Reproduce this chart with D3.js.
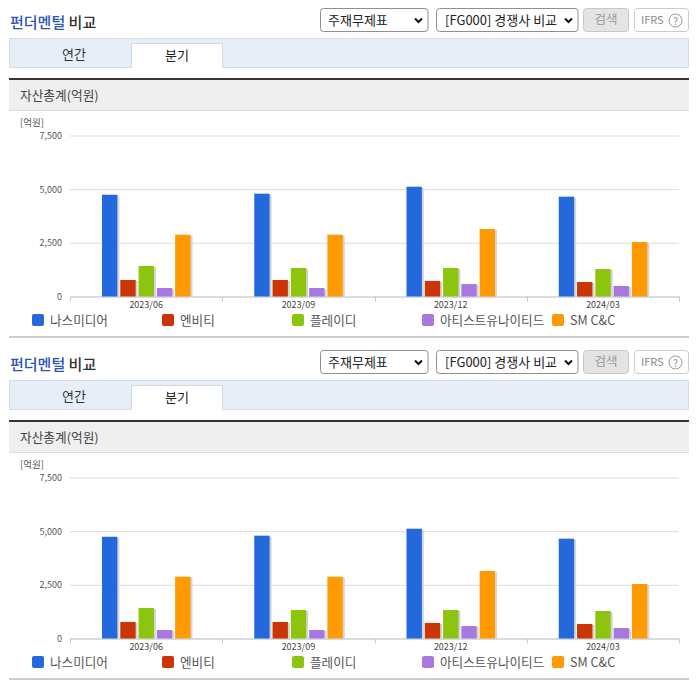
<!DOCTYPE html>
<html>
<head>
<meta charset="utf-8">
<script src="https://cdn.jsdelivr.net/npm/d3@7"></script>
<style>
html, body { margin: 0; padding: 0; background: #fff; }
svg { display: block; }
text { font-family: "Noto Sans CJK KR", "Noto Sans", sans-serif; }
</style>
</head>
<body>
<script>
var periods = ["2023/06", "2023/09", "2023/12", "2024/03"];
var companies = ["나스미디어", "엔비티", "플레이디", "아티스트유나이티드", "SM C&C"];
var companyColors = ["#2369dc", "#cc3505", "#8cc40e", "#a878e0", "#ff9a00"];
var yTicks = [0, 2500, 5000, 7500];

var nasmedia = [4740, 4790, 5115, 4650];
var nbt = [770, 770, 725, 675];
var playd = [1420, 1330, 1330, 1280];
var artistUnited = [395, 395, 580, 490];
var smcc = [2880, 2880, 3145, 2540];
var seriesValues = [nasmedia, nbt, playd, artistUnited, smcc];

var panelOffsets = [0, 342];

var svg = d3.select("body").append("svg")
    .attr("width", 696)
    .attr("height", 684);

var xScale = d3.scaleBand().domain(periods).range([70, 679]);
var seriesScale = d3.scaleBand().domain(companies)
    .range([32, 120.5]).paddingInner(0.16);
var yScale = d3.scaleLinear().domain([0, 7500]).range([296.5, 135.5]);

panelOffsets.forEach(function (offset) {
    var panel = svg.append("g").attr("transform", "translate(0," + offset + ")");
    drawHeader(panel);
    drawChart(panel);
    drawLegend(panel);
});

// title, dropdowns, buttons and the tab strip
function drawHeader(panel) {
    var title = panel.append("text")
        .attr("x", 10).attr("y", 28)
        .attr("font-size", 15).attr("font-weight", 500);
    title.append("tspan").attr("fill", "#2a55b0").text("펀더멘털");
    title.append("tspan").attr("fill", "#333").text(" 비교");

    drawSelect(panel, 320.5, 107.5, "주재무제표", 328);
    drawSelect(panel, 436.5, 141.5, "[FG000] 경쟁사 비교", 445);

    panel.append("rect")
        .attr("x", 583.5).attr("y", 8.5).attr("width", 45).attr("height", 23).attr("rx", 3)
        .attr("fill", "#e4e4e4").attr("stroke", "#c8c8c8");
    panel.append("text")
        .attr("x", 606).attr("y", 24).attr("text-anchor", "middle")
        .attr("font-size", 12.5).attr("fill", "#999").text("검색");

    panel.append("rect")
        .attr("x", 634.5).attr("y", 8.5).attr("width", 54).attr("height", 23).attr("rx", 3)
        .attr("fill", "#fff").attr("stroke", "#ccc");
    panel.append("text")
        .attr("x", 641).attr("y", 24)
        .attr("font-size", 11).attr("fill", "#888").text("IFRS");
    panel.append("circle")
        .attr("cx", 675.5).attr("cy", 20.5).attr("r", 6.5)
        .attr("fill", "#fff").attr("stroke", "#999");
    panel.append("text")
        .attr("x", 675.5).attr("y", 24.5).attr("text-anchor", "middle")
        .attr("font-size", 10).attr("fill", "#888").text("?");

    panel.append("rect")
        .attr("x", 9.5).attr("y", 38.5).attr("width", 679).attr("height", 29)
        .attr("fill", "#e8eef8").attr("stroke", "#d5dde8");
    panel.append("path")
        .attr("d", "M131.5,67.5V43.5H222.5V67.5")
        .attr("fill", "#fff").attr("stroke", "#d0d8e4");
    panel.append("rect")
        .attr("x", 132).attr("y", 66).attr("width", 90).attr("height", 2).attr("fill", "#fff");
    panel.append("text")
        .attr("x", 74).attr("y", 59).attr("text-anchor", "middle")
        .attr("font-size", 13).attr("fill", "#333").text("연간");
    panel.append("text")
        .attr("x", 177).attr("y", 60).attr("text-anchor", "middle")
        .attr("font-size", 13).attr("fill", "#222").text("분기");

    panel.append("rect")
        .attr("x", 9).attr("y", 80).attr("width", 680).attr("height", 30).attr("fill", "#efefef");
    panel.append("rect")
        .attr("x", 9).attr("y", 78).attr("width", 680).attr("height", 2).attr("fill", "#333");
    panel.append("rect")
        .attr("x", 9).attr("y", 110).attr("width", 680).attr("height", 1).attr("fill", "#ddd");
    panel.append("text")
        .attr("x", 20).attr("y", 100)
        .attr("font-size", 12.7).attr("fill", "#444").text("자산총계(억원)");
}

// a closed dropdown box with its chevron
function drawSelect(panel, x, width, label, textX) {
    panel.append("rect")
        .attr("x", x).attr("y", 8.5).attr("width", width).attr("height", 23).attr("rx", 3)
        .attr("fill", "#fff").attr("stroke", "#8f8f8f");
    panel.append("text")
        .attr("x", textX).attr("y", 25)
        .attr("font-size", 13).attr("fill", "#222").text(label);
    var cx = x + width - 9.5;
    panel.append("path")
        .attr("d", "M" + (cx - 3.5) + ",18.5l3.5,3.5l3.5,-3.5")
        .attr("fill", "none").attr("stroke", "#111").attr("stroke-width", 2);
}

// axes and bars, with the soft shadow to the right of each bar
function drawChart(panel) {
    panel.append("text")
        .attr("x", 20).attr("y", 126)
        .attr("font-size", 9.5).attr("fill", "#555").text("[억원]");

    var yAxis = panel.append("g")
        .attr("transform", "translate(70,0)")
        .call(d3.axisLeft(yScale).tickValues(yTicks).tickSize(-609).tickPadding(8)
            .tickFormat(d3.format(",")));
    yAxis.select(".domain").remove();
    yAxis.selectAll("line").attr("stroke", "#dcdcdc");
    yAxis.selectAll("text")
        .attr("font-family", null).attr("font-size", 9).attr("fill", "#555");

    var xAxis = panel.append("g")
        .attr("transform", "translate(0,296.5)")
        .call(d3.axisBottom(xScale).tickSize(0).tickPadding(5));
    xAxis.select(".domain").attr("stroke", "#c0cbdc");
    xAxis.selectAll("text")
        .attr("font-size", 9).attr("fill", "#444");

    panel.append("g").selectAll("line")
        .data(periods.concat(null))
        .enter().append("line")
        .attr("x1", function (d) { return d ? Math.round(xScale(d)) + 0.5 : 679.5; })
        .attr("x2", function (d) { return d ? Math.round(xScale(d)) + 0.5 : 679.5; })
        .attr("y1", 296.5).attr("y2", 301.5)
        .attr("stroke", "#c0cbdc");

    var groups = panel.append("g").selectAll("g")
        .data(periods)
        .enter().append("g")
        .attr("transform", function (d) { return "translate(" + xScale(d) + ",0)"; });

    companies.forEach(function (name, s) {
        var values = seriesValues[s];
        groups.append("rect")
            .attr("x", seriesScale(name) + 2)
            .attr("y", function (d, i) { return yScale(values[i]) + 1; })
            .attr("width", seriesScale.bandwidth())
            .attr("height", function (d, i) { return yScale(0) - yScale(values[i]) - 1; })
            .attr("fill", "#d4d4d4");
        groups.append("rect")
            .attr("x", seriesScale(name))
            .attr("y", function (d, i) { return yScale(values[i]); })
            .attr("width", seriesScale.bandwidth())
            .attr("height", function (d, i) { return yScale(0) - yScale(values[i]); })
            .attr("fill", companyColors[s]);
    });
}

function drawLegend(panel) {
    var items = panel.append("g").selectAll("g")
        .data(companies)
        .enter().append("g")
        .attr("transform", function (d, i) { return "translate(" + (32 + i * 130) + ",314)"; });
    items.append("rect")
        .attr("width", 12).attr("height", 12).attr("rx", 2)
        .attr("fill", function (d, i) { return companyColors[i]; });
    items.append("text")
        .attr("x", 18).attr("y", 11)
        .attr("font-size", 12.6).attr("fill", "#555")
        .text(function (d) { return d; });

    panel.append("rect")
        .attr("x", 9).attr("y", 336).attr("width", 680).attr("height", 2).attr("fill", "#ccc");
}
</script>
</body>
</html>
